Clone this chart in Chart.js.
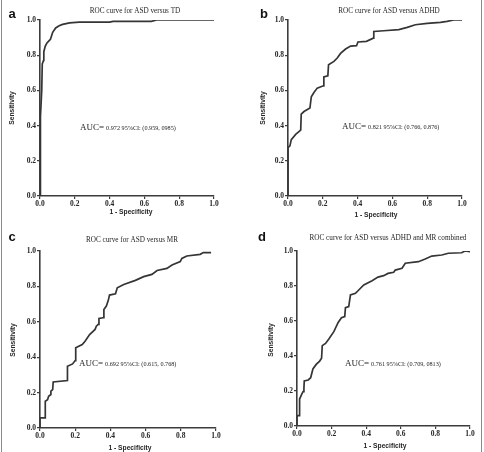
<!DOCTYPE html>
<html><head><meta charset="utf-8">
<script src="https://cdn.jsdelivr.net/npm/chart.js@4.4.0/dist/chart.umd.min.js"></script>
<style>
html,body{margin:0;padding:0;background:#fff;}
#wrap{position:relative;width:484px;height:452px;overflow:hidden;background:#fff;}
canvas{position:absolute;}
.frame{position:absolute;top:0;bottom:0;width:1px;background:#8a8a8a;}
</style></head><body>
<div id="wrap">
<canvas id="ca" width="242" height="226" style="left:0;top:0"></canvas>
<canvas id="cb" width="242" height="226" style="left:242px;top:0"></canvas>
<canvas id="cc" width="242" height="226" style="left:0;top:226px"></canvas>
<canvas id="cd" width="242" height="226" style="left:242px;top:226px"></canvas>
<div class="frame" style="left:1px"></div>
<div class="frame" style="left:481px"></div>
</div>
<script>
// ---- data ----
const fprA = [0, 0, 0.005, 0.01, 0.013, 0.02, 0.022, 0.03, 0.04, 0.05, 0.06, 0.073, 0.09, 0.11, 0.13, 0.17, 0.226, 0.4, 0.42, 0.64, 0.67, 1.0];
const tprA = [0, 0.3, 0.45, 0.6, 0.75, 0.77, 0.82, 0.85, 0.87, 0.88, 0.89, 0.93, 0.955, 0.967, 0.975, 0.984, 0.988, 0.988, 0.992, 0.992, 1.0, 1.0];

const fprB = [0, 0, 0.011, 0.019, 0.044, 0.073, 0.076, 0.092, 0.126, 0.134, 0.149, 0.168, 0.203, 0.206, 0.229, 0.233, 0.264, 0.283, 0.302, 0.331, 0.36, 0.394, 0.402, 0.451, 0.49, 0.493, 0.55, 0.637, 0.685, 0.732, 0.8, 0.876, 0.914, 0.952, 1.0];
const tprB = [0, 0.275, 0.285, 0.32, 0.35, 0.374, 0.465, 0.48, 0.5, 0.564, 0.588, 0.613, 0.626, 0.677, 0.683, 0.746, 0.765, 0.784, 0.81, 0.835, 0.852, 0.854, 0.875, 0.879, 0.897, 0.935, 0.939, 0.945, 0.958, 0.973, 0.981, 0.987, 0.992, 1.0, 1.0];

const fprC = [0, 0, 0.03, 0.03, 0.043, 0.049, 0.062, 0.062, 0.072, 0.075, 0.156, 0.156, 0.185, 0.2, 0.203, 0.24, 0.256, 0.282, 0.313, 0.32, 0.331, 0.335, 0.358, 0.363, 0.377, 0.388, 0.395, 0.429, 0.439, 0.476, 0.542, 0.589, 0.636, 0.665, 0.721, 0.75, 0.797, 0.806, 0.834, 0.91, 0.928, 0.972];
const tprC = [0, 0.057, 0.057, 0.151, 0.16, 0.179, 0.189, 0.208, 0.217, 0.26, 0.268, 0.349, 0.362, 0.381, 0.453, 0.472, 0.49, 0.528, 0.557, 0.575, 0.585, 0.619, 0.623, 0.67, 0.689, 0.721, 0.751, 0.758, 0.792, 0.811, 0.834, 0.855, 0.868, 0.89, 0.902, 0.921, 0.94, 0.958, 0.972, 0.981, 0.991, 0.991];

const fprD = [0, 0, 0.015, 0.015, 0.027, 0.035, 0.04, 0.042, 0.065, 0.079, 0.092, 0.111, 0.131, 0.142, 0.146, 0.165, 0.184, 0.213, 0.238, 0.257, 0.276, 0.28, 0.299, 0.309, 0.338, 0.357, 0.386, 0.434, 0.468, 0.501, 0.526, 0.559, 0.568, 0.607, 0.626, 0.702, 0.741, 0.779, 0.837, 0.875, 0.952, 0.971, 1.0];
const tprD = [0, 0.059, 0.059, 0.154, 0.181, 0.196, 0.215, 0.257, 0.263, 0.276, 0.326, 0.352, 0.371, 0.387, 0.459, 0.472, 0.497, 0.539, 0.592, 0.619, 0.625, 0.676, 0.682, 0.749, 0.758, 0.777, 0.806, 0.83, 0.851, 0.859, 0.872, 0.878, 0.891, 0.901, 0.93, 0.939, 0.954, 0.971, 0.977, 0.987, 0.99, 1.0, 0.996];

const titles = ['ROC curve for ASD versus TD', 'ROC curve for ASD versus ADHD', 'ROC curve for ASD versus MR', 'ROC curve for ASD versus ADHD and MR combined'];
const letters = ['a', 'b', 'c', 'd'];
const aucHeads = ['AUC=', 'AUC=', 'AUC=', 'AUC='];
const aucTexts = ['0.972 95%CI: (0.959, 0985)', '0.821 95%CI: (0.766, 0.876)', '0.692 95%CI: (0.615, 0.768)', '0.761 95%CI: (0.709, 0813)'];
const xTitle = '1 - Specificity';
const yTitle = 'Sensitivity';
const axisMin = 0, axisMax = 1, axisStep = 0.2;

// ---- layout (pixels, per panel canvas) ----
const panels = [
  {id:'ca', fpr:fprA, tpr:tprA, area:[40,20,214,196], title:[135,11], letter:[12,14], ylab:[12,108], xlab:[131,212], auc:[80,128]},
  {id:'cb', fpr:fprB, tpr:tprB, area:[46,20,220,196], title:[147,11], letter:[22,14], ylab:[21,108], xlab:[134,215], auc:[100,127]},
  {id:'cc', fpr:fprC, tpr:tprC, area:[40,25,216,202], title:[132,14], letter:[12,11], ylab:[13,114], xlab:[130,222], auc:[79,138]},
  {id:'cd', fpr:fprD, tpr:tprD, area:[55,25,228,200], title:[146,12], letter:[20,11], ylab:[29,114], xlab:[143,220], auc:[103,138]}
];

const YW = 20, XH = 14, CW = 242, CH = 226;
const ink = '#262626';

const textPlugin = {
  id: 'paneltext',
  afterDraw(chart) {
    const i = chart.options.plugins.paneltext.index;
    const p = panels[i];
    const ctx = chart.ctx;
    ctx.save();
    ctx.fillStyle = ink;
    ctx.textBaseline = 'middle';
    ctx.font = '7.2px "Liberation Serif"';
    ctx.textAlign = 'center';
    ctx.fillText(titles[i], p.title[0], p.title[1]);
    ctx.font = 'bold 13px "Liberation Sans"';
    ctx.fillStyle = '#111';
    ctx.fillText(letters[i], p.letter[0], p.letter[1]);
    ctx.fillStyle = ink;
    ctx.font = 'bold 6.7px "Liberation Sans"';
    ctx.fillText(xTitle, p.xlab[0], p.xlab[1]);
    ctx.save();
    ctx.translate(p.ylab[0], p.ylab[1]);
    ctx.rotate(-Math.PI / 2);
    ctx.fillText(yTitle, 0, 0);
    ctx.restore();
    ctx.textAlign = 'left';
    ctx.font = '9px "Liberation Serif"';
    ctx.fillText(aucHeads[i], p.auc[0], p.auc[1]);
    const w = ctx.measureText(aucHeads[i]).width;
    ctx.font = '6.2px "Liberation Serif"';
    ctx.fillText(aucTexts[i], p.auc[0] + w + 2, p.auc[1]);
    ctx.restore();
  }
};

function axis(kind) {
  return {
    type: 'linear', min: axisMin, max: axisMax,
    position: kind === 'x' ? 'bottom' : 'left',
    ticks: {
      stepSize: axisStep, padding: 1, color: ink,
      font: {family: '"Liberation Serif"', size: 7.5, weight: 'bold'},
      callback: v => Number(v).toFixed(1), maxRotation: 0, autoSkip: false
    },
    grid: {drawOnChartArea: false, drawTicks: true, tickLength: 3, color: '#3c3c3c', lineWidth: 1.2},
    border: {display: true, color: '#3c3c3c', width: 1.6},
    afterFit(s) { if (kind === 'x') s.height = XH; else s.width = YW; }
  };
}

panels.forEach((p, i) => {
  const [L, T, R, B] = p.area;
  new Chart(document.getElementById(p.id), {
    type: 'scatter',
    data: {datasets: [{
      data: p.fpr.map((x, k) => ({x: x, y: p.tpr[k]})),
      showLine: true, borderColor: '#353535', borderWidth: 1.7,
      pointRadius: 0, tension: 0, fill: false
    }]},
    options: {
      responsive: false, animation: false, devicePixelRatio: 1,
      layout: {padding: {left: L - YW, top: T, right: CW - R, bottom: CH - B - XH}},
      scales: {x: axis('x'), y: axis('y')},
      plugins: {legend: {display: false}, tooltip: {enabled: false}, title: {display: false}, paneltext: {index: i}}
    },
    plugins: [textPlugin]
  });
});
</script>
</body></html>
